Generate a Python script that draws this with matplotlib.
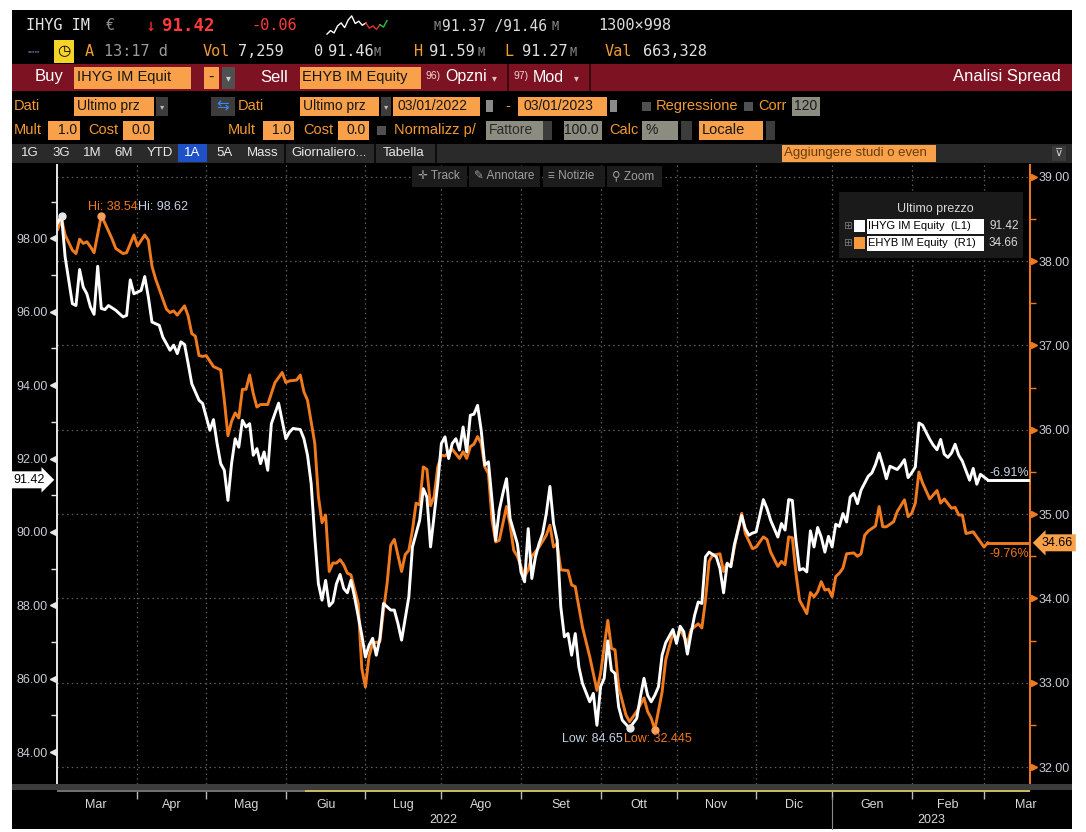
import numpy as np
import pandas as pd
import matplotlib
matplotlib.use("Agg")
import matplotlib.pyplot as plt
import matplotlib.transforms as mtransforms
from matplotlib.patches import Rectangle
from matplotlib import font_manager

# ---- data (session = trading day since 1 Mar 2022) ----
ihyg_session = [0, 2, 3, 5, 6, 7, 8, 9, 10, 11, 12, 13, 14, 15, 17, 19, 20, 21, 22, 24,
                25, 26, 27, 29, 30, 32, 33, 34, 35, 36, 37, 38, 40, 41, 43, 44, 45, 46, 47, 48,
                49, 50, 51, 52, 53, 54, 55, 56, 57, 58, 59, 60, 62, 64, 65, 66, 68, 69, 70, 71,
                72, 73, 74, 75, 76, 77, 78, 79, 80, 81, 82, 83, 85, 86, 87, 88, 89, 90, 91, 93,
                94, 95, 96, 98, 99, 100, 101, 102, 103, 104, 106, 107, 108, 109, 110, 111, 112, 113, 114, 115,
                116, 117, 118, 119, 120, 121, 122, 123, 124, 125, 126, 128, 129, 130, 131, 132, 133, 134, 135, 136,
                137, 138, 139, 140, 141, 142, 143, 144, 145, 146, 148, 149, 150, 151, 152, 153, 154, 155, 156, 157,
                159, 161, 162, 163, 164, 165, 166, 167, 168, 169, 171, 172, 173, 174, 175, 176, 177, 178, 179, 180,
                181, 183, 184, 185, 186, 187, 188, 190, 191, 192, 193, 194, 196, 197, 198, 200, 201, 202, 203, 204,
                205, 206, 207, 208, 209, 210, 211, 212, 213, 214, 215, 216, 217, 218, 219, 220, 221, 222, 223, 225,
                226, 227, 228, 229, 230, 231, 233, 234, 235, 236, 237, 238, 239, 240, 242, 243, 244, 245, 246, 247,
                248, 249, 250, 251, 253, 254, 255, 256, 258]
ihyg_close = [98.26, 98.62, 97.49, 96.22, 96.17, 97.15, 96.67, 96.49, 96.13, 95.93, 97.24, 96.09, 96.06, 96.17, 96.04, 95.86, 95.90, 96.87, 96.49, 96.58,
              96.96, 96.40, 95.72, 95.63, 95.31, 94.95, 95.09, 94.86, 95.18, 95.11, 94.59, 94.04, 93.59, 93.50, 92.77, 93.06, 92.41, 91.86, 91.68, 90.86,
              91.86, 92.54, 92.31, 93.04, 92.86, 92.95, 92.09, 92.27, 91.86, 92.18, 91.68, 92.95, 93.51, 92.54, 92.72, 92.82, 92.79, 92.54, 92.09, 91.32,
              89.86, 88.59, 88.14, 88.68, 87.98, 88.09, 88.59, 88.84, 88.46, 88.34, 88.68, 88.23, 87.19, 86.59, 86.91, 87.10, 86.64, 87.10, 88.05, 87.87,
              87.87, 87.50, 87.05, 88.23, 89.59, 89.96, 90.32, 91.18, 90.95, 89.59, 91.32, 92.41, 92.59, 92.00, 92.41, 92.54, 92.23, 92.86, 92.18, 93.18,
              93.21, 93.45, 92.77, 91.82, 91.91, 90.86, 89.77, 90.59, 91.05, 91.45, 90.36, 89.68, 88.91, 88.64, 90.09, 88.73, 89.32, 89.68, 89.96, 90.50,
              91.24, 90.23, 89.77, 87.96, 87.14, 87.23, 86.64, 87.23, 86.32, 85.87, 85.37, 85.60, 84.73, 85.78, 86.01, 87.03, 86.23, 86.14, 85.23, 84.87,
              84.65, 84.92, 85.50, 86.01, 85.55, 85.37, 85.55, 85.78, 86.64, 86.98, 87.34, 86.96, 87.43, 87.28, 86.67, 87.23, 87.73, 88.09, 88.05, 89.32,
              89.45, 89.32, 89.00, 88.34, 89.14, 89.05, 89.66, 90.45, 90.09, 89.91, 89.97, 90.00, 90.88, 90.64, 90.32, 89.86, 90.23, 90.05, 90.88, 90.86,
              89.77, 88.96, 89.00, 88.91, 90.03, 89.59, 90.12, 89.86, 89.45, 89.88, 89.59, 90.21, 90.15, 90.50, 90.27, 90.95, 91.05, 90.77, 91.14, 91.52,
              91.61, 91.84, 92.15, 91.82, 91.45, 91.79, 91.70, 91.82, 91.97, 91.48, 91.61, 91.77, 92.97, 92.91, 92.52, 92.36, 92.24, 92.52, 92.12, 92.03,
              92.15, 92.39, 92.09, 91.93, 91.41, 91.73, 91.30, 91.57, 91.42]

ehyb_session = [1, 2, 3, 5, 6, 7, 8, 9, 10, 11, 13, 14, 16, 17, 19, 20, 22, 23, 25, 26,
                27, 28, 29, 31, 32, 33, 34, 36, 37, 38, 39, 40, 41, 42, 44, 46, 47, 48, 49, 50,
                51, 52, 53, 54, 55, 56, 57, 59, 61, 63, 64, 65, 67, 68, 69, 70, 72, 73, 74, 75,
                76, 77, 78, 79, 80, 81, 82, 84, 85, 86, 87, 88, 90, 91, 92, 93, 94, 96, 97, 98,
                99, 100, 101, 102, 103, 104, 105, 106, 107, 108, 110, 112, 113, 114, 115, 116, 117, 118, 119, 120,
                121, 122, 123, 125, 126, 127, 128, 130, 131, 132, 134, 136, 137, 138, 139, 140, 142, 143, 144, 146,
                148, 150, 151, 153, 154, 155, 156, 158, 159, 161, 163, 164, 165, 166, 168, 169, 171, 172, 173, 175,
                176, 178, 179, 180, 181, 182, 183, 184, 185, 186, 187, 188, 190, 191, 193, 194, 196, 197, 198, 200,
                201, 202, 203, 204, 205, 206, 208, 209, 210, 211, 212, 213, 214, 215, 216, 217, 218, 219, 221, 222,
                223, 224, 225, 227, 228, 229, 230, 232, 233, 235, 236, 237, 238, 239, 240, 242, 243, 244, 245, 246,
                248, 249, 250, 251, 252, 254, 255, 257, 258]
ehyb_close = [38.38, 38.50, 38.31, 38.13, 38.09, 38.26, 38.21, 38.23, 38.17, 38.10, 38.54, 38.45, 38.26, 38.15, 38.09, 38.10, 38.31, 38.18, 38.31, 38.25,
              37.94, 37.79, 37.67, 37.43, 37.39, 37.41, 37.36, 37.47, 37.35, 37.14, 37.11, 36.88, 36.87, 36.88, 36.75, 36.71, 36.35, 35.93, 36.10, 36.20,
              36.14, 36.48, 36.48, 36.65, 36.43, 36.27, 36.30, 36.30, 36.56, 36.68, 36.56, 36.58, 36.59, 36.65, 36.45, 36.35, 35.84, 35.21, 34.90, 34.99,
              34.32, 34.42, 34.42, 34.46, 34.40, 34.30, 34.28, 33.94, 33.17, 32.95, 33.31, 33.47, 33.49, 33.86, 34.18, 34.63, 34.70, 34.32, 34.52, 34.57,
              34.81, 35.13, 35.11, 35.56, 35.53, 35.10, 35.21, 35.56, 35.70, 35.69, 35.77, 35.66, 35.74, 35.66, 35.80, 35.83, 35.92, 35.84, 35.56, 35.48,
              34.93, 34.67, 34.69, 35.09, 34.87, 34.57, 34.50, 34.26, 34.34, 34.50, 34.61, 34.75, 34.87, 34.61, 34.65, 34.34, 34.33, 34.16, 34.14, 33.66,
              33.31, 32.91, 33.11, 33.74, 33.41, 33.39, 32.95, 32.62, 32.54, 32.66, 32.82, 32.66, 32.58, 32.445, 32.89, 33.27, 33.59, 33.51, 33.63, 33.47,
              33.63, 33.70, 33.65, 33.98, 34.44, 34.52, 34.52, 34.53, 34.32, 34.42, 34.38, 34.61, 35.01, 34.77, 34.59, 34.61, 34.73, 34.70, 34.55, 34.38,
              34.44, 34.40, 34.73, 34.72, 34.30, 33.98, 33.82, 34.07, 34.02, 34.08, 34.20, 34.10, 34.11, 34.02, 34.26, 34.30, 34.36, 34.53, 34.54, 34.50,
              34.53, 34.75, 34.80, 34.86, 35.09, 34.85, 34.85, 34.91, 35.03, 35.17, 34.97, 35.01, 35.13, 35.50, 35.37, 35.18, 35.23, 35.28, 35.13, 35.18,
              35.07, 35.08, 34.99, 34.99, 34.77, 34.79, 34.73, 34.61, 34.66]

month_names = ["Mar", "Apr", "Mag", "Giu", "Lug", "Ago", "Set", "Ott", "Nov", "Dic", "Gen", "Feb", "Mar"]
holidays = ["2022-04-15", "2022-04-18", "2022-08-15", "2022-12-26", "2023-04-07", "2023-04-10"]
left_ticks = [84, 86, 88, 90, 92, 94, 96, 98]
right_ticks = [32, 33, 34, 35, 36, 37, 38, 39]
ihyg_chg = "-6.91%"
ehyb_chg = "-9.76%"
spark = [5.0, 5.6, 5.2, 6.4, 6.9, 6.1, 7.4, 8.1, 6.8, 7.2, 6.5, 6.9, 6.0, 6.4, 5.8, 6.6, 6.2, 7.3]

# ---- layout ----
W, H = 1086, 832
ORANGE = "#f07a1e"
AMBER = "#f8a04a"
LIGHT = "#d8d8d8"
TXT_OR = "#f39a32"
GRID = "#5e5e5e"

names = {f.name for f in font_manager.fontManager.ttflist}
NARROW = "Liberation Sans Narrow" if "Liberation Sans Narrow" in names else "Liberation Sans"
SANS = [NARROW, "DejaVu Sans"]
MONO = ["DejaVu Sans Mono", "DejaVu Sans"]

fig = plt.figure(figsize=(W / 100, H / 100), dpi=100, facecolor="white")


def rect(x0, y0, x1, y1, color, z=1):
    fig.add_artist(Rectangle((x0 / W, 1 - y1 / H), (x1 - x0) / W, (y1 - y0) / H,
                             transform=fig.transFigure, fc=color, ec="none", zorder=z))


def label(x, y, s, color, size, ha="left", family=None, weight="normal", z=6):
    fig.text(x / W, 1 - y / H, s, color=color, fontsize=size, ha=ha, va="center",
             family=family or SANS, fontweight=weight, zorder=z)


# terminal panel
rect(12, 10, 1072, 829, "black", z=-1)

# row 1 - quote line
label(26, 26, "IHYG IM", "#e6e6e6", 11, family=MONO)
label(106, 26, "€", "#8c8c8c", 11, family=MONO)
label(146, 26, "↓", "#ff3030", 12, family=MONO)
label(162, 26, "91.42", "#ff3a3a", 12.5, family=MONO, weight="bold")
label(251, 26, "-0.06", "#ff3a3a", 11, family=MONO)
label(433, 27, "M", "#8c8c8c", 8.5, family=MONO)
label(442, 26, "91.37 /91.46", "#dcdcdc", 10.5, family=MONO)
label(551, 27, "M", "#8c8c8c", 8.5, family=MONO)
label(598, 26, "1300×998", "#dcdcdc", 11, family=MONO)
sp = fig.add_axes([324 / W, 1 - 35 / H, 66 / W, 20 / H])
sp.axis("off")
sp.plot(range(12), spark[:12], color="white", lw=1)
sp.plot(range(11, 16), spark[11:16], color="#e03030", lw=1)
sp.plot(range(15, len(spark)), spark[15:], color="#30c040", lw=1)

# row 2
label(28, 52, "▪▪▪▪▪", "#4d5a78", 5)
rect(54, 40, 74, 63, "#f5d327", z=1)
label(64, 51, "◷", "black", 11, ha="center", family=["DejaVu Sans"])
label(85, 51, "A", TXT_OR, 11, family=MONO)
label(104, 51, "13:17 d", "#9a9a9a", 11, family=MONO)
label(203, 51, "Vol", TXT_OR, 11, family=MONO)
label(238, 51, "7,259", "#e0e0e0", 11, family=MONO)
label(314, 51, "0", "#e0e0e0", 11, family=MONO)
label(328, 51, "91.46", "#e0e0e0", 11, family=MONO)
label(374, 52, "M", "#8c8c8c", 8.5, family=MONO)
label(414, 51, "H", TXT_OR, 11, family=MONO)
label(429, 51, "91.59", "#e0e0e0", 11, family=MONO)
label(477, 52, "M", "#8c8c8c", 8.5, family=MONO)
label(504, 51, "L", TXT_OR, 11, family=MONO)
label(522, 51, "91.27", "#e0e0e0", 11, family=MONO)
label(570, 52, "M", "#8c8c8c", 8.5, family=MONO)
label(605, 51, "Val", TXT_OR, 11, family=MONO)
label(643, 51, "663,328", "#e0e0e0", 11, family=MONO)

# row 3 - red command bar
rect(12, 64, 1072, 91, "#7d1222", z=0.5)
label(35, 77, "Buy", "white", 12)
rect(74, 67, 191, 89, AMBER)
label(77, 77, "IHYG IM Equit", "#161616", 10.5)
rect(204, 67, 219, 89, AMBER)
label(211, 77, "-", "#161616", 12, ha="center")
rect(222, 67, 235, 89, "#505050")
label(228, 78, "▾", "#cfcfcf", 7, ha="center", family=["DejaVu Sans"])
label(260, 77, "Sell", "white", 12)
rect(300, 67, 421, 89, AMBER)
label(302, 77, "EHYB IM Equity", "#161616", 10.5)
label(425, 76, "96)", "#f0d0d0", 7.5)
label(445, 77, "Opzni", "white", 11.5)
label(492, 78, "▾", "#e0c0c0", 7, family=["DejaVu Sans"])
rect(507, 64, 509, 91, "#3a0810", z=1)
label(513, 76, "97)", "#f0d0d0", 7.5)
label(533, 77, "Mod", "white", 11.5)
label(574, 78, "▾", "#e0c0c0", 7, family=["DejaVu Sans"])
rect(589, 64, 591, 91, "#3a0810", z=1)
label(1061, 77, "Analisi Spread", "white", 12, ha="right")

# row 4
y4a, y4b, y4 = 97, 116, 106
label(14, y4, "Dati", TXT_OR, 10.5)
rect(74, y4a, 154, y4b, AMBER)
label(77, y4, "Ultimo prz", "#161616", 10)
rect(156, y4a, 168, y4b, "#3c3c3c")
label(162, y4 + 1, "▾", "#bbbbbb", 6, ha="center", family=["DejaVu Sans"])
rect(211, y4a, 235, y4b, "#3c3c3c")
label(223, y4, "⇆", "#3f86e8", 11, ha="center", family=["DejaVu Sans"])
label(238, y4, "Dati", TXT_OR, 10.5)
rect(300, y4a, 379, y4b, AMBER)
label(303, y4, "Ultimo prz", "#161616", 10)
rect(381, y4a, 391, y4b, "#3c3c3c")
label(386, y4 + 1, "▾", "#bbbbbb", 6, ha="center", family=["DejaVu Sans"])
rect(393, y4a, 480, y4b, AMBER)
label(397, y4, "03/01/2022", "#161616", 10)
rect(486, 100, 493, 112, "#8a8a8a")
label(505, y4, "-", TXT_OR, 10.5)
rect(518, y4a, 607, y4b, AMBER)
label(523, y4, "03/01/2023", "#161616", 10)
rect(610, 100, 617, 112, "#8a8a8a")
rect(642, 102, 651, 111, "#505050")
label(656, y4, "Regressione", TXT_OR, 10.5)
rect(744, 102, 753, 111, "#505050")
label(758, y4, "Corr", TXT_OR, 10.5)
rect(792, y4a, 820, y4b, "#8c8c80")
label(806, y4, "120", "#1a1a1a", 10, ha="center")

# row 5
y5a, y5b, y5 = 121, 140, 130
label(14, y5, "Mult", TXT_OR, 10.5)
rect(48, y5a, 80, y5b, AMBER)
label(77, y5, "1.0", "#161616", 10, ha="right")
label(88, y5, "Cost", TXT_OR, 10.5)
rect(123, y5a, 154, y5b, AMBER)
label(151, y5, "0.0", "#161616", 10, ha="right")
label(228, y5, "Mult", TXT_OR, 10.5)
rect(263, y5a, 294, y5b, AMBER)
label(291, y5, "1.0", "#161616", 10, ha="right")
label(303, y5, "Cost", TXT_OR, 10.5)
rect(338, y5a, 369, y5b, AMBER)
label(366, y5, "0.0", "#161616", 10, ha="right")
rect(377, 126, 386, 135, "#505050")
label(394, y5, "Normalizz p/", TXT_OR, 10.5)
rect(486, y5a, 543, y5b, "#8c8c80")
label(489, y5, "Fattore", "#2a2a2a", 10)
rect(543, y5a, 552, y5b, "#3c3c3c")
rect(564, y5a, 602, y5b, "#8c8c80")
label(599, y5, "100.0", "#1a1a1a", 10, ha="right")
label(609, y5, "Calc", TXT_OR, 10.5)
rect(642, y5a, 678, y5b, "#8c8c80")
label(645, y5, "%", "#1a1a1a", 10)
rect(681, y5a, 692, y5b, "#3c3c3c")
rect(699, y5a, 763, y5b, AMBER)
label(702, y5, "Locale", "#161616", 10.5)
rect(766, y5a, 775, y5b, "#3c3c3c")

# row 6 - range buttons
rect(12, 144, 1072, 163, "#2a2a2a", z=0.5)
for bx, bl in zip([21, 52, 83, 114, 147, 216, 247, 291, 383],
                  ["1G", "3G", "1M", "6M", "YTD", "5A", "Mass", "Giornaliero...", "Tabella"]):
    label(bx, 153, bl, "#e8e8e8", 9.5)
rect(178, 144, 207, 162, "#1e50c8")
label(192, 153, "1A", "white", 9.5, ha="center")
for sx in [284, 374, 435]:
    rect(sx, 144, sx + 1.5, 163, "#0c0c0c")
rect(782, 145, 936, 162, AMBER)
label(784, 153, "Aggiungere studi o even", "#6a3c0a", 9.5)
rect(1052, 146, 1066, 161, "#3a3a3a")
label(1059, 153, "⊽", "#cfcfcf", 8, ha="center", family=["DejaVu Sans"])

# ---- chart ----
days = pd.bdate_range("2022-03-01", "2023-04-30", freq="C", holidays=holidays)
month_start = [i for i in range(len(days)) if i == 0 or days[i].month != days[i - 1].month]
month_mid = [(a + b) / 2 for a, b in zip(month_start[:-1], month_start[1:])][:len(month_names)]
first_2023 = next(i for i, d in enumerate(days) if d.year == 2023)
x_lo, x_hi = 0.75, 269.7

ax = fig.add_axes([57 / W, 1 - 784 / H, (1030 - 57) / W, (784 - 165) / H])
ax2 = ax.twinx()
ax.set_zorder(3)
ax2.set_zorder(2)
ax.patch.set_visible(False)
ax2.patch.set_visible(True)
ax2.patch.set_facecolor("black")

ax.set_xlim(x_lo, x_hi)
ax.set_ylim(83.13, 100.0)
ax2.set_ylim(31.80, 39.14)

gstyle = dict(color=GRID, lw=0.9, ls=(0, (1.2, 2.6)), zorder=0)
for m in month_start[1:len(month_names)]:
    ax2.axvline(m, **gstyle)
for t in right_ticks:
    ax2.axhline(t, **gstyle)

ax2.plot(ehyb_session, ehyb_close, color=ORANGE, lw=2.1, zorder=3, solid_joinstyle="round")
ax2.plot([ehyb_session[-1], x_hi], [ehyb_close[-1]] * 2, color=ORANGE, lw=2.1, zorder=3)
ax.plot(ihyg_session, ihyg_close, color="white", lw=2.1, zorder=3, solid_joinstyle="round")
ax.plot([ihyg_session[-1], x_hi], [ihyg_close[-1]] * 2, color="white", lw=2.1, zorder=3)

# hi / low markers
i_hi, i_lo = int(np.argmax(ihyg_close)), int(np.argmin(ihyg_close))
e_hi, e_lo = int(np.argmax(ehyb_close)), int(np.argmin(ehyb_close))
ax.plot([ihyg_session[i_hi], ihyg_session[i_lo]], [ihyg_close[i_hi], ihyg_close[i_lo]],
        "o", color="#e8e8e8", ms=5, zorder=4)
ax2.plot([ehyb_session[e_hi], ehyb_session[e_lo]], [ehyb_close[e_hi], ehyb_close[e_lo]],
         "o", color="#f6a060", ms=5, zorder=4)
hi_xy = (ehyb_session[e_hi], ehyb_close[e_hi])
ax2.annotate(f"Hi: {ehyb_close[e_hi]:.2f}", hi_xy, xytext=(36, 9), textcoords="offset pixels",
             ha="right", va="center", color=ORANGE, fontsize=9, family=SANS)
ax2.annotate(f"Hi: {ihyg_close[i_hi]:.2f}", hi_xy, xytext=(37, 9), textcoords="offset pixels",
             ha="left", va="center", color="#c8d2e6", fontsize=9, family=SANS)
lo_xy = (ihyg_session[i_lo], ihyg_close[i_lo])
ax.annotate(f"Low: {ihyg_close[i_lo]:.2f}", lo_xy, xytext=(-7, -11), textcoords="offset pixels",
            ha="right", va="center", color="#c8d2e6", fontsize=9, family=SANS)
ax.annotate(f"Low: {ehyb_close[e_lo]:g}", lo_xy, xytext=(-6, -11), textcoords="offset pixels",
            ha="left", va="center", color=ORANGE, fontsize=9, family=SANS)

# change labels at right end
ax.annotate(ihyg_chg, (1.0, ihyg_close[-1]), xycoords=("axes fraction", "data"), xytext=(-1, 7),
            textcoords="offset pixels", ha="right", va="center", color="#c8d2e6", fontsize=9, family=SANS)
ax2.annotate(ehyb_chg, (1.0, ehyb_close[-1]), xycoords=("axes fraction", "data"), xytext=(-1, -11),
             textcoords="offset pixels", ha="right", va="center", color=ORANGE, fontsize=9, family=SANS)

# last price flags on the axes
ax.annotate(f"{ihyg_close[-1]:.2f}", (0, ihyg_close[-1]), xycoords=("axes fraction", "data"),
            xytext=(-12, 0), textcoords="offset pixels", ha="right", va="center", color="black",
            fontsize=9, family=SANS, annotation_clip=False,
            bbox=dict(boxstyle="rarrow,pad=0.2", fc="white", ec="none"))
ax2.annotate(f"{ehyb_close[-1]:.2f}", (1, ehyb_close[-1]), xycoords=("axes fraction", "data"),
             xytext=(12, 0), textcoords="offset pixels", ha="left", va="center", color="black",
             fontsize=9, family=SANS, annotation_clip=False,
             bbox=dict(boxstyle="larrow,pad=0.2", fc=AMBER, ec="none"))

# axes styling
for s in ["top", "bottom", "right"]:
    ax.spines[s].set_visible(False)
for s in ["top", "bottom", "left"]:
    ax2.spines[s].set_visible(False)
ax.spines["left"].set_color("#e8e8e8")
ax.spines["left"].set_linewidth(1.4)
ax2.spines["right"].set_color(ORANGE)
ax2.spines["right"].set_linewidth(1.4)

ax.set_yticks(left_ticks)
ax.set_yticklabels([f"{v:.2f}" for v in left_ticks])
ax.set_yticks([v + 1 for v in left_ticks[:-1]] + [99], minor=True)
ax.tick_params(axis="y", which="major", length=0, pad=7, labelsize=9, labelcolor="#c8ccd4")
ax.tick_params(axis="y", which="minor", length=4, color="#e8e8e8", width=1)
ax2.set_yticks(right_ticks)
ax2.set_yticklabels([f"{v:.2f}" for v in right_ticks])
ax2.set_yticks([v + 0.5 for v in right_ticks[:-1]], minor=True)
ax2.tick_params(axis="y", which="major", length=0, pad=6, labelsize=9, labelcolor="#c8ccd4")
ax2.tick_params(axis="y", which="minor", length=4, color=ORANGE, width=1)
for lab in ax.get_yticklabels() + ax2.get_yticklabels():
    lab.set_family(SANS)

tri_l = mtransforms.blended_transform_factory(ax.transAxes, ax.transData)
ax.plot([-0.004] * len(left_ticks), left_ticks, ls="none", marker="<", ms=5, color="#e8e8e8",
        transform=tri_l, clip_on=False)
tri_r = mtransforms.blended_transform_factory(ax2.transAxes, ax2.transData)
ax2.plot([1.004] * len(right_ticks), right_ticks, ls="none", marker=">", ms=5, color=ORANGE,
         transform=tri_r, clip_on=False)

ax.set_xticks(month_start[1:len(month_names)])
ax.set_xticklabels([])
ax.set_xticks(month_mid, minor=True)
ax.set_xticklabels(month_names, minor=True, family=SANS)
ax.tick_params(axis="x", which="major", length=11, color="#bbbbbb", width=1, direction="out")
ax.tick_params(axis="x", which="minor", length=0, pad=11, labelsize=9, labelcolor="#d8d8d8")

yr = mtransforms.blended_transform_factory(ax.transData, ax.transAxes)
ax.text((0 + first_2023) / 2, -0.058, "2022", transform=yr, ha="center", va="center",
        color="#d8d8d8", fontsize=9, family=SANS, clip_on=False)
ax.text((first_2023 + x_hi) / 2, -0.058, "2023", transform=yr, ha="center", va="center",
        color="#d8d8d8", fontsize=9, family=SANS, clip_on=False)
ax.plot([first_2023, first_2023], [-0.021, -0.073], transform=yr, color="#8a8a8a", lw=0.8,
        clip_on=False)

# scroll bar under the plot
rect(12, 784, 1072, 790, "#3c3c3c", z=5)
rect(57, 790, 305, 792, "#707070", z=5)
rect(305, 790, 1030, 792, "#c8b860", z=5)

# in-chart toolbar
for x0, x1, tx, s in [(412, 467, 418, "✛ Track"), (469, 540, 474, "✎ Annotare"),
                      (543, 605, 548, "≡ Notizie"), (607, 662, 612, "⚲ Zoom")]:
    rect(x0, 166, x1, 187, "#1c1c1c", z=5)
    label(tx, 176, s, "#a0a0a0", 8.5)

# legend
rect(839, 192, 1023, 258, "#1a1a1a", z=5)
label(935, 209, "Ultimo prezzo", LIGHT, 9, ha="center")
for yy, col, name, val in [(226, "white", "IHYG IM Equity  (L1)", ihyg_close[-1]),
                           (243, "#f89a3c", "EHYB IM Equity  (R1)", ehyb_close[-1])]:
    label(843, yy, "⊞", "#7a7a7a", 7.5, family=["DejaVu Sans"])
    rect(854, yy - 6, 865, yy + 6, col, z=5.5)
    rect(867, yy - 7.5, 984, yy + 7.5, "white", z=5.5)
    label(868, yy, name, "black", 8)
    label(989, yy, f"{val:.2f}", LIGHT, 8.5)

fig.savefig("out.png", dpi=100, facecolor="white")
